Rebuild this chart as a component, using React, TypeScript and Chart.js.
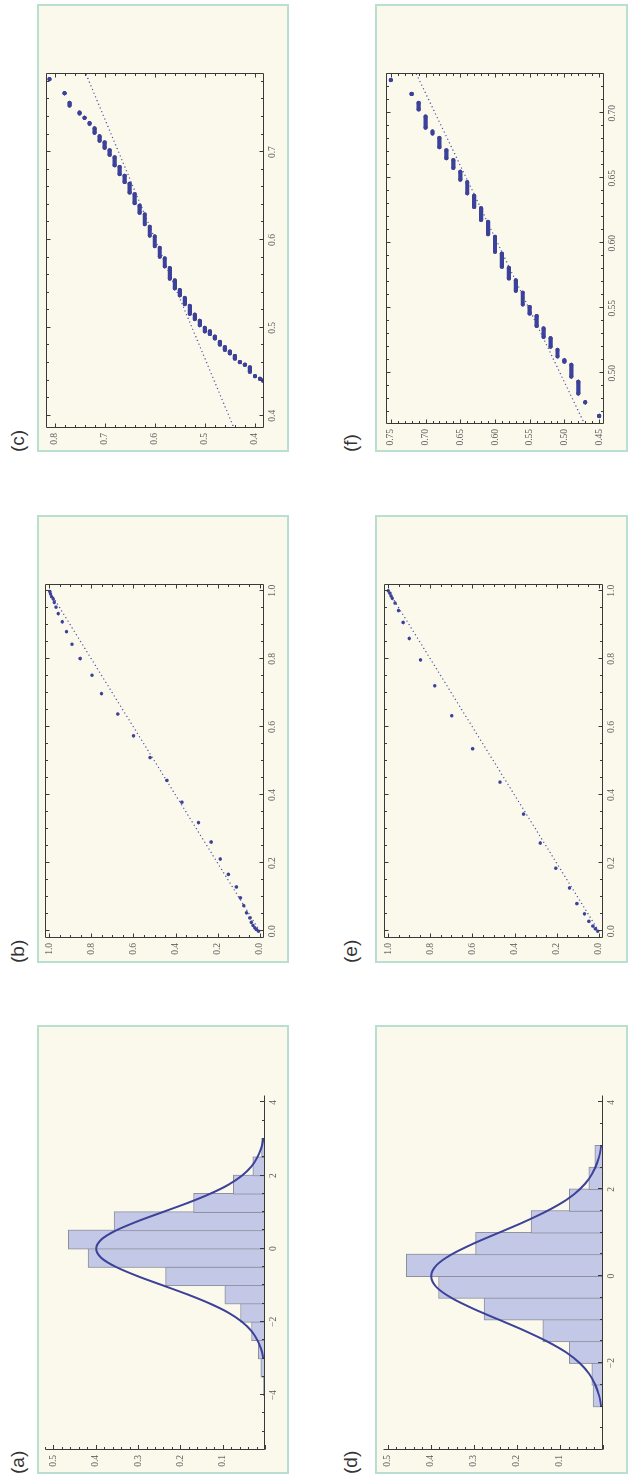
import React, { useEffect, useRef } from 'react';
import { Chart, registerables } from 'chart.js';

Chart.register(...registerables);

// ---------------- data ----------------
const BIN_WIDTH = 0.5;
// (a) histogram: bin centres and densities
const HIST_A_CENTERS = [-3.75, -3.25, -2.75, -2.25, -1.75, -1.25, -0.75, -0.25, 0.25, 0.75, 1.25, 1.75, 2.25, 2.75];
const HIST_A_DENSITY = [0.004, 0.010, 0.016, 0.032, 0.058, 0.095, 0.235, 0.418, 0.465, 0.357, 0.169, 0.075, 0.029, 0.008];
// (d) histogram
const HIST_D_CENTERS = [-2.75, -2.25, -1.75, -1.25, -0.75, -0.25, 0.25, 0.75, 1.25, 1.75, 2.25, 2.75];
const HIST_D_DENSITY = [0.023, 0.026, 0.078, 0.140, 0.276, 0.382, 0.457, 0.296, 0.167, 0.078, 0.033, 0.019];
// density curve (a) and (d)
const PDF_X = [-3, -2.75, -2.5, -2.25, -2, -1.75, -1.5, -1.25, -1, -0.75, -0.5, -0.25, 0, 0.25, 0.5, 0.75, 1, 1.25, 1.5, 1.75, 2, 2.25, 2.5, 2.75, 3];
const PDF_Y = [0.004, 0.009, 0.018, 0.032, 0.054, 0.086, 0.130, 0.183, 0.242, 0.301, 0.352, 0.387, 0.399, 0.387, 0.352, 0.301, 0.242, 0.183, 0.130, 0.086, 0.054, 0.032, 0.018, 0.009, 0.004];

// (b) P-P points
const PP_B_X = [0.000, 0.005, 0.010, 0.017, 0.026, 0.039, 0.054, 0.075, 0.098, 0.130, 0.167, 0.212, 0.262, 0.319, 0.379, 0.443, 0.510, 0.574, 0.638, 0.698, 0.752, 0.801, 0.843, 0.880, 0.909, 0.933, 0.952, 0.966, 0.976, 0.983, 0.991, 0.998];
const PP_B_Y = [0.006, 0.016, 0.024, 0.032, 0.040, 0.047, 0.063, 0.076, 0.092, 0.111, 0.149, 0.188, 0.231, 0.291, 0.370, 0.441, 0.521, 0.600, 0.674, 0.752, 0.797, 0.853, 0.892, 0.918, 0.938, 0.957, 0.968, 0.976, 0.981, 0.989, 0.994, 0.997];
// (e) P-P points
const PP_E_X = [0.000, 0.007, 0.015, 0.029, 0.051, 0.081, 0.127, 0.185, 0.259, 0.344, 0.438, 0.536, 0.633, 0.721, 0.797, 0.860, 0.907, 0.942, 0.964, 0.978, 0.985, 0.993, 1.000];
const PP_E_Y = [0.005, 0.016, 0.028, 0.047, 0.068, 0.104, 0.139, 0.204, 0.278, 0.357, 0.469, 0.599, 0.698, 0.779, 0.847, 0.900, 0.929, 0.951, 0.968, 0.981, 0.987, 0.992, 1.000];
const DIAG_X = [0, 1];
const DIAG_Y = [0, 1];

// (c) Q-Q: quantised levels with the x-extent of each run of points
const QQ_C_LEVEL = [0.81, 0.78, 0.77, 0.75, 0.74, 0.73, 0.72, 0.71, 0.70, 0.69, 0.68, 0.67, 0.66, 0.65, 0.64, 0.63, 0.62, 0.61, 0.60, 0.59, 0.58, 0.57, 0.56, 0.55, 0.54, 0.53, 0.52, 0.51, 0.50, 0.49, 0.48, 0.47, 0.46, 0.45, 0.44, 0.43, 0.42, 0.41, 0.40, 0.39, 0.384];
const QQ_C_FROM = [0.783, 0.767, 0.756, 0.745, 0.739, 0.733, 0.727, 0.718, 0.711, 0.702, 0.694, 0.683, 0.673, 0.664, 0.652, 0.639, 0.629, 0.615, 0.604, 0.591, 0.579, 0.568, 0.554, 0.543, 0.534, 0.525, 0.515, 0.508, 0.500, 0.496, 0.490, 0.484, 0.478, 0.473, 0.468, 0.461, 0.458, 0.455, 0.445, 0.442, 0.440];
const QQ_C_TO = [0.783, 0.767, 0.753, 0.744, 0.739, 0.732, 0.722, 0.713, 0.705, 0.697, 0.685, 0.675, 0.666, 0.654, 0.642, 0.631, 0.618, 0.605, 0.593, 0.581, 0.570, 0.556, 0.545, 0.537, 0.527, 0.516, 0.510, 0.503, 0.496, 0.493, 0.488, 0.481, 0.475, 0.471, 0.465, 0.461, 0.458, 0.450, 0.445, 0.442, 0.440];
const FIT_C_X = [0.380, 0.795];
const FIT_C_Y = [0.4375, 0.7417];

// (f) Q-Q
const QQ_F_LEVEL = [0.75, 0.72, 0.71, 0.70, 0.69, 0.68, 0.67, 0.66, 0.65, 0.64, 0.63, 0.62, 0.61, 0.60, 0.59, 0.58, 0.57, 0.56, 0.55, 0.54, 0.53, 0.52, 0.51, 0.50, 0.49, 0.48, 0.47, 0.45];
const QQ_F_FROM = [0.7256, 0.7149, 0.708, 0.6975, 0.686, 0.681, 0.6715, 0.664, 0.655, 0.647, 0.6365, 0.627, 0.6165, 0.605, 0.592, 0.581, 0.5715, 0.562, 0.551, 0.544, 0.5345, 0.527, 0.518, 0.510, 0.5065, 0.4935, 0.4777, 0.4672];
const QQ_F_TO = [0.7256, 0.7149, 0.703, 0.689, 0.6845, 0.674, 0.6655, 0.658, 0.649, 0.6385, 0.628, 0.618, 0.607, 0.5935, 0.582, 0.573, 0.5635, 0.553, 0.546, 0.5365, 0.528, 0.5205, 0.513, 0.509, 0.4975, 0.4845, 0.4777, 0.4672];
const FIT_F_X = [0.455, 0.735];
const FIT_F_Y = [0.4656, 0.7176];

// tick labels
const A_XTICKS = [-4, -2, 0, 2, 4];
const D_XTICKS = [-2, 0, 2, 4];
const HIST_YTICKS = [0.1, 0.2, 0.3, 0.4, 0.5];
const PP_TICKS = [0, 0.2, 0.4, 0.6, 0.8, 1.0];
const C_XTICKS = [0.4, 0.5, 0.6, 0.7];
const C_YTICKS = [0.4, 0.5, 0.6, 0.7, 0.8];
const F_XTICKS = [0.5, 0.55, 0.6, 0.65, 0.7];
const F_YTICKS = [0.45, 0.5, 0.55, 0.6, 0.65, 0.7, 0.75];

// ---------------- styles ----------------
const SERIF = "'Liberation Serif', 'Times New Roman', serif";
const SANS = "'Liberation Sans', Arial, sans-serif";
const INK = '#3c4199';
const DOTS = '#4a52b0';
const BAR_FILL = '#c2c8e6';
const BAR_EDGE = '#8c8e9c';
const PANEL_BG = '#fbf9ec';
const PANEL_EDGE = '#b9dfd0';
const AXIS = '#3a3a3a';
const LABEL = '#5a5a5a';

type Rect = { l: number; t: number; r: number; b: number };
const YW = 30, XH = 22, PT = 8, PR = 8;

const fmtMinus = (v: number) => (v < 0 ? '\u2212' + Math.abs(v) : String(v));
const fmt1 = (v: number) => v.toFixed(1);
const fmt2 = (v: number) => v.toFixed(2);

function tickVals(min: number, max: number, step: number) {
  const out: number[] = [];
  const k0 = Math.ceil(min / step - 1e-9), k1 = Math.floor(max / step + 1e-9);
  for (let k = k0; k <= k1; k++) out.push(k * step);
  return out;
}
const isMajor = (v: number, major: number) => Math.abs(v / major - Math.round(v / major)) < 1e-6;

const mmaAxes = {
  id: 'mmaAxes',
  afterDatasetsDraw(chart: any, _a: any, o: any) {
    if (!o || !o.mode) return;
    const { ctx, chartArea: a } = chart;
    const xs = chart.scales.x, ys = chart.scales.y;
    const L = Math.round(a.left) + 0.5, R = Math.round(a.right) - 0.5;
    const T = Math.round(a.top) + 0.5, B = Math.round(a.bottom) - 0.5;
    ctx.save();
    ctx.strokeStyle = AXIS;
    ctx.lineWidth = 1;
    ctx.beginPath();
    const big = o.major || 4, small = o.minor || 2.5;
    if (o.mode === 'frame') {
      ctx.rect(L, T, R - L, B - T);
    } else {
      ctx.moveTo(L, B); ctx.lineTo(R, B);
      ctx.moveTo(L, T); ctx.lineTo(L, B);
    }
    for (const v of tickVals(xs.min, xs.max, o.xMinor)) {
      const p = Math.round(xs.getPixelForValue(v)) + 0.5;
      const len = isMajor(v, o.xMajor) ? big : small;
      ctx.moveTo(p, B); ctx.lineTo(p, B - len);
      if (o.mode === 'frame') { ctx.moveTo(p, T); ctx.lineTo(p, T + len); }
    }
    for (const v of tickVals(ys.min, ys.max, o.yMinor)) {
      const p = Math.round(ys.getPixelForValue(v)) + 0.5;
      const len = isMajor(v, o.yMajor) ? big : small;
      ctx.moveTo(L, p); ctx.lineTo(L + len, p);
      if (o.mode === 'frame') { ctx.moveTo(R, p); ctx.lineTo(R - len, p); }
    }
    ctx.stroke();
    ctx.restore();
  },
};
Chart.register(mmaAxes);

function scaleOpts(axis: 'x' | 'y', min: number, max: number, ticks: number[], fmt: (v: number) => string, pad: number) {
  return {
    type: 'linear',
    min,
    max,
    offset: false,
    grid: { display: false, drawTicks: false, tickLength: 0 },
    border: { display: false },
    ticks: {
      autoSkip: false,
      maxRotation: 0,
      minRotation: 0,
      padding: pad,
      color: LABEL,
      font: { family: SERIF, size: 9.5 },
      callback: (v: any) => fmt(Number(v)),
    },
    afterBuildTicks: (s: any) => {
      s.ticks = ticks.map((value) => ({ value }));
    },
    afterFit: (s: any) => {
      if (axis === 'x') {
        s.height = XH; s.paddingLeft = 0; s.paddingRight = 0;
      } else {
        s.width = YW; s.paddingTop = 0; s.paddingBottom = 0;
      }
    },
  };
}

function baseOptions(xr: number[], yr: number[], xt: number[], yt: number[], xf: any, yf: any, axes: any) {
  return {
    responsive: false,
    maintainAspectRatio: false,
    animation: false,
    devicePixelRatio: 1,
    events: [],
    layout: { padding: { left: 0, top: PT, right: PR, bottom: 0 } },
    plugins: { legend: { display: false }, tooltip: { enabled: false }, mmaAxes: axes },
    scales: {
      x: scaleOpts('x', xr[0], xr[1], xt, xf, 3),
      y: scaleOpts('y', yr[0], yr[1], yt, yf, 5),
    },
  };
}

function histConfig(rect: Rect, xr: number[], yr: number[], xt: number[], centers: number[], dens: number[]) {
  const barPx = (BIN_WIDTH * (rect.r - rect.l)) / (xr[1] - xr[0]);
  return {
    type: 'bar',
    data: {
      datasets: [
        {
          type: 'line',
          data: PDF_X.map((x, i) => ({ x, y: PDF_Y[i] })),
          borderColor: INK,
          borderWidth: 2,
          pointRadius: 0,
          cubicInterpolationMode: 'monotone',
          order: 1,
        },
        {
          type: 'bar',
          data: centers.map((x, i) => ({ x, y: dens[i] })),
          backgroundColor: BAR_FILL,
          borderColor: BAR_EDGE,
          borderWidth: 1,
          borderSkipped: false,
          barThickness: barPx + 1,
          grouped: false,
          order: 2,
        },
      ],
    },
    options: baseOptions(xr, yr, xt, HIST_YTICKS, fmtMinus, fmt1, {
      mode: 'axes', xMinor: 0.5, xMajor: 2, yMinor: 0.02, yMajor: 0.1, major: 4.5, minor: 2.5,
    }),
  };
}

function dotted(xs: number[], ys: number[]) {
  return {
    data: xs.map((x, i) => ({ x, y: ys[i] })),
    showLine: true,
    borderColor: DOTS,
    borderWidth: 1.2,
    borderDash: [1.2, 2.8],
    pointRadius: 0,
    order: 2,
  };
}

function ppConfig(px: number[], py: number[]) {
  return {
    type: 'scatter',
    data: {
      datasets: [
        dotted(DIAG_X, DIAG_Y),
        {
          data: px.map((x, i) => ({ x, y: py[i] })),
          pointRadius: 1.8,
          pointBackgroundColor: INK,
          pointBorderWidth: 0,
          order: 1,
        },
      ],
    },
    options: baseOptions([-0.02, 1.02], [-0.02, 1.02], PP_TICKS, PP_TICKS, fmt1, fmt1, {
      mode: 'frame', xMinor: 0.05, xMajor: 0.2, yMinor: 0.05, yMajor: 0.2,
    }),
  };
}

function qqConfig(levels: number[], from: number[], to: number[], fx: number[], fy: number[], xr: number[], yr: number[], xt: number[], yt: number[], f: any, minorStep: number, majorStep: number) {
  const seg = levels.flatMap((y, i) => [
    { x: from[i], y },
    { x: to[i], y },
    { x: to[i], y: null },
  ]);
  return {
    type: 'scatter',
    data: {
      datasets: [
        dotted(fx, fy),
        {
          data: seg,
          showLine: true,
          spanGaps: false,
          borderColor: INK,
          borderWidth: 4.2,
          borderCapStyle: 'round',
          pointRadius: 2.1,
          pointBackgroundColor: INK,
          pointBorderWidth: 0,
          order: 1,
        },
      ],
    },
    options: baseOptions(xr, yr, xt, yt, f, f, {
      mode: 'frame', xMinor: minorStep, xMajor: majorStep, yMinor: minorStep, yMajor: majorStep,
    }),
  };
}

function ChartCanvas({ rect, build }: { rect: Rect; build: () => any }) {
  const ref = useRef<HTMLCanvasElement | null>(null);
  const w = rect.r - rect.l + YW + PR;
  const h = rect.b - rect.t + PT + XH;
  useEffect(() => {
    const chart = new Chart(ref.current as HTMLCanvasElement, build());
    return () => chart.destroy();
  }, []);
  return (
    <canvas
      ref={ref}
      width={w}
      height={h}
      style={{ position: 'absolute', left: rect.l - YW, top: rect.t - PT, width: w, height: h }}
    />
  );
}

// layout (unrotated coordinates, figure is turned 90° for display)
const RECT_A: Rect = { l: 30, t: 45, r: 385, b: 265 };
const RECT_B: Rect = { l: 542, t: 45, r: 896, b: 264 };
const RECT_C: Rect = { l: 1052, t: 46, r: 1407, b: 264 };
const RECT_D: Rect = { l: 30, t: 383, r: 385, b: 603 };
const RECT_E: Rect = { l: 542, t: 384, r: 896, b: 603 };
const RECT_F: Rect = { l: 1056, t: 386, r: 1407, b: 604 };

const BOXES = [
  { l: 6, t: 37, w: 449, h: 252 },
  { l: 517, t: 37, w: 448, h: 252 },
  { l: 1028, t: 37, w: 448, h: 252 },
  { l: 6, t: 375, w: 449, h: 253 },
  { l: 517, t: 375, w: 448, h: 253 },
  { l: 1028, t: 375, w: 448, h: 253 },
];
const PANEL_LABELS = [
  { text: '(a)', l: 6, t: 8 },
  { text: '(b)', l: 517, t: 8 },
  { text: '(c)', l: 1028, t: 8 },
  { text: '(d)', l: 6, t: 341 },
  { text: '(e)', l: 517, t: 341 },
  { text: '(f)', l: 1028, t: 341 },
];

export default function App() {
  return (
    <div style={{ position: 'absolute', left: 0, top: 0, width: 628, height: 1480, overflow: 'hidden', background: '#fff' }}>
      <div
        style={{
          position: 'absolute',
          left: 0,
          top: 0,
          width: 1480,
          height: 628,
          transformOrigin: '0 0',
          transform: 'translate(0px, 1480px) rotate(-90deg)',
        }}
      >
        {BOXES.map((b, i) => (
          <div
            key={'box' + i}
            style={{
              position: 'absolute',
              left: b.l,
              top: b.t,
              width: b.w,
              height: b.h,
              boxSizing: 'border-box',
              border: `2px solid ${PANEL_EDGE}`,
              background: PANEL_BG,
            }}
          />
        ))}
        {PANEL_LABELS.map((p) => (
          <div
            key={p.text}
            style={{ position: 'absolute', left: p.l, top: p.t, fontFamily: SANS, fontSize: 19, lineHeight: '20px', color: '#333' }}
          >
            {p.text}
          </div>
        ))}
        <ChartCanvas rect={RECT_A} build={() => histConfig(RECT_A, [-5.5, 4.2], [0, 0.52], A_XTICKS, HIST_A_CENTERS, HIST_A_DENSITY)} />
        <ChartCanvas rect={RECT_D} build={() => histConfig(RECT_D, [-4, 4.17], [0, 0.511], D_XTICKS, HIST_D_CENTERS, HIST_D_DENSITY)} />
        <ChartCanvas rect={RECT_B} build={() => ppConfig(PP_B_X, PP_B_Y)} />
        <ChartCanvas rect={RECT_E} build={() => ppConfig(PP_E_X, PP_E_Y)} />
        <ChartCanvas
          rect={RECT_C}
          build={() => qqConfig(QQ_C_LEVEL, QQ_C_FROM, QQ_C_TO, FIT_C_X, FIT_C_Y, [0.386, 0.79], [0.382, 0.817], C_XTICKS, C_YTICKS, fmt1, 0.02, 0.1)}
        />
        <ChartCanvas
          rect={RECT_F}
          build={() => qqConfig(QQ_F_LEVEL, QQ_F_FROM, QQ_F_TO, FIT_F_X, FIT_F_Y, [0.461, 0.731], [0.443, 0.757], F_XTICKS, F_YTICKS, fmt2, 0.01, 0.05)}
        />
      </div>
    </div>
  );
}
